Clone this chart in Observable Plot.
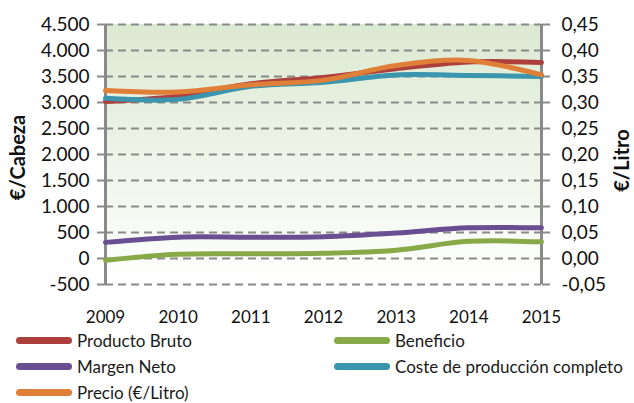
<!DOCTYPE html>
<html>
<head>
<meta charset="utf-8">
<script src="https://cdn.jsdelivr.net/npm/d3@7"></script>
<script src="https://cdn.jsdelivr.net/npm/@observablehq/plot@0.6"></script>
<style>
  body { margin: 0; background: #fff; font-family: Lato, "DejaVu Sans", sans-serif; }
  #wrap { width: 634px; height: 403px; position: relative; overflow: hidden; }
  #wrap svg { overflow: visible; }
  .legend { position: absolute; left: 0; top: 327px; width: 634px; font-size: 17px; color: #1a1a1a; }
  .item { position: absolute; height: 26px; display: flex; align-items: center; white-space: nowrap; }
  .sw { width: 56px; height: 7px; border-radius: 4px; margin-right: 5px; }
</style>
</head>
<body>
<div id="wrap"></div>
<script>
const years = [2009, 2010, 2011, 2012, 2013, 2014, 2015];
const productoBruto = [3020, 3120, 3360, 3480, 3650, 3780, 3770];
const beneficio     = [-35, 80, 90, 100, 160, 330, 320];
const margenNeto    = [310, 410, 410, 420, 490, 590, 590];
const costeProduccion = [3080, 3060, 3310, 3390, 3530, 3520, 3500];
const precioLitro   = [0.323, 0.320, 0.334, 0.343, 0.371, 0.381, 0.353];
const leftTicks = [-500, 0, 500, 1000, 1500, 2000, 2500, 3000, 3500, 4000, 4500];
const seriesNames = ["Producto Bruto", "Beneficio", "Margen Neto", "Coste de producción completo", "Precio (€/Litro)"];
const seriesColors = ["#ad403c", "#87a947", "#6a4e92", "#3b95ae", "#e07f37"];
const litroScale = 10000; // €/Litro axis = €/Cabeza axis / 10000

const seriesValues = [productoBruto, beneficio, margenNeto, costeProduccion, precioLitro.map(v => v * litroScale)];
const rows = [];
seriesNames.forEach((name, i) => years.forEach((y, j) => rows.push({series: name, year: y, value: seriesValues[i][j]})));

const loc = d3.formatLocale({decimal: ",", thousands: ".", grouping: [3], currency: ["", "€"], minus: "-"});
const fmtL = loc.format(",d");
const fmt2 = loc.format(".2f");
const fmtR = v => fmt2(v / litroScale);

const chart = Plot.plot({
  width: 634,
  height: 328,
  marginLeft: 105,
  marginRight: 93,
  marginTop: 24,
  marginBottom: 44,
  style: {fontFamily: "Lato, 'DejaVu Sans', sans-serif", background: "transparent", color: "#111", overflow: "visible"},
  x: {domain: [2009, 2015]},
  y: {domain: [-500, 4500]},
  color: {domain: seriesNames, range: seriesColors},
  marks: [
    Plot.rect([{}], {x1: () => 2009, x2: () => 2015, y1: () => -500, y2: () => 4500, fill: "url(#bgGrad)"}),
    Plot.ruleY(leftTicks, {stroke: "#8a8a8a", strokeWidth: 2, strokeDasharray: "8,5"}),
    Plot.ruleX([2009, 2015], {stroke: "#8a8a8a", strokeWidth: 3}),
    Plot.axisY({ticks: leftTicks, tickFormat: fmtL, tickSize: 8, tickPadding: 8, fontSize: 19, stroke: "#8a8a8a", strokeWidth: 2, fill: "#111", label: null}),
    Plot.axisY({anchor: "right", ticks: leftTicks, tickFormat: fmtR, tickSize: 8, tickPadding: 12, fontSize: 19, stroke: "#8a8a8a", strokeWidth: 2, fill: "#111", label: null}),
    Plot.axisX({ticks: years, tickFormat: d => String(d), tickSize: 0, tickPadding: 26, fontSize: 17, fill: "#111", label: null}),
    Plot.line(rows, {x: "year", y: "value", z: "series", stroke: "series", strokeWidth: 5, curve: "catmull-rom", strokeLinecap: "round"}),
    Plot.text([{}], {frameAnchor: "left", dx: -87, dy: 3, rotate: -90, text: () => "€/Cabeza", textAnchor: "middle", fontWeight: "bold", fontSize: 20, fill: "#111"}),
    Plot.text([{}], {frameAnchor: "right", dx: 81, dy: 6, rotate: -90, text: () => "€/Litro", textAnchor: "middle", fontWeight: "bold", fontSize: 20, fill: "#111"})
  ]
});

const svg = d3.select(chart);
const grad = svg.insert("defs", ":first-child").append("linearGradient")
  .attr("id", "bgGrad").attr("x1", 0).attr("y1", 0).attr("x2", 0).attr("y2", 1);
grad.append("stop").attr("offset", 0).attr("stop-color", "#dce9d2");
grad.append("stop").attr("offset", 0.55).attr("stop-color", "#eff5ea");
grad.append("stop").attr("offset", 1).attr("stop-color", "#ffffff");

const wrap = document.getElementById("wrap");
wrap.appendChild(chart);

const legend = document.createElement("div");
legend.className = "legend";
const legendPos = [[16, 0], [334, 0], [16, 26], [334, 26], [16, 52]];
seriesNames.forEach((name, i) => {
  const it = document.createElement("div");
  it.className = "item";
  it.style.left = legendPos[i][0] + "px";
  it.style.top = legendPos[i][1] + "px";
  const sw = document.createElement("span");
  sw.className = "sw";
  sw.style.background = seriesColors[i];
  const tx = document.createElement("span");
  tx.textContent = name;
  it.appendChild(sw);
  it.appendChild(tx);
  legend.appendChild(it);
});
wrap.appendChild(legend);
</script>
</body>
</html>
